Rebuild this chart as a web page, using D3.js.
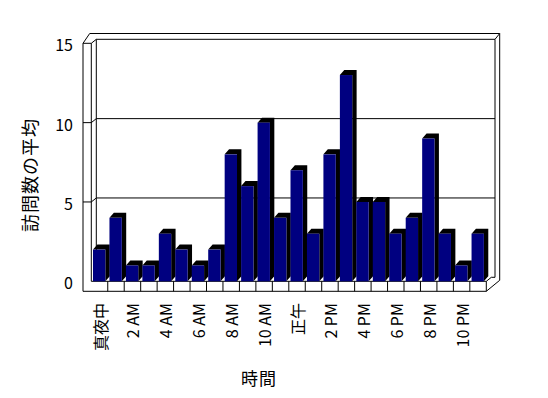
<!DOCTYPE html>
<html lang="ja">
  <head>
    <meta charset="UTF-8" />
    <title>訪問数の平均</title>
    <script src="https://d3js.org/d3.v7.min.js"></script>
    <style>
      body { margin: 0; background: #fff; }
      svg { display: block; }
      text { font-family: "Noto Sans CJK JP", "Noto Sans", sans-serif; fill: #000; }
      .wall { fill: none; stroke: #000; stroke-width: 1px; }
    </style>
  </head>
  <body>
    <svg width="548" height="398"></svg>
    <script>
      // hourly data
      const hours = d3.range(24);
      const visits = [2, 4, 1, 1, 3, 2, 1, 2, 8, 6, 10, 4, 7, 3, 8, 13, 5, 5, 3, 4, 9, 3, 1, 3];
      const hourLabels = ["真夜中", "2 AM", "4 AM", "6 AM", "8 AM", "10 AM", "正午", "2 PM", "4 PM", "6 PM", "8 PM", "10 PM"];
      const yTicks = [0, 5, 10, 15];

      const svg = d3.select("svg");

      // front plane of the 3d box
      const FRONT = { LEFT: 91.3, RIGHT: 486.3, BOTTOM: 281.3, TOP: 43.3 };
      const WALL = 8.3;          // thickness of left wall / floor
      const BACK = { DX: 5, DY: -4 };
      const BAR = { DX: 4.4, DY: -5 };

      const X = d3.scaleBand().domain(hours).range([FRONT.LEFT, FRONT.RIGHT]).padding(0);
      const Y = d3.scaleLinear().domain([0, 15]).range([FRONT.BOTTOM, FRONT.TOP]);

      const walls = svg.append("g").attr("class", "wall");
      const ln = (x1, y1, x2, y2) =>
        walls.append("line").attr("x1", x1).attr("y1", y1).attr("x2", x2).attr("y2", y2);

      const outerL = FRONT.LEFT - WALL;
      const backL = FRONT.LEFT + BACK.DX;
      const backR = 495;
      const outerR = 499.7;
      const topOuter = 33.5;

      // back wall gridlines
      yTicks.forEach((v) => {
        if (v > 0) ln(backL, Y(v) + BACK.DY, backR, Y(v) + BACK.DY);
        if (v > 0 && v < 15) {
          ln(outerL, Y(v), FRONT.LEFT, Y(v));
          ln(FRONT.LEFT, Y(v), backL, Y(v) + BACK.DY);
        }
      });

      // left wall
      ln(outerL, Y(15), outerL, FRONT.BOTTOM + 10);
      ln(FRONT.LEFT, Y(15), FRONT.LEFT, FRONT.BOTTOM);
      ln(backL, Y(15) + BACK.DY, backL, FRONT.BOTTOM + BACK.DY);
      ln(outerL, Y(15), FRONT.LEFT, Y(15));
      ln(FRONT.LEFT, Y(15), backL, Y(15) + BACK.DY);
      ln(outerL, Y(15), outerL + 6.7, topOuter);
      // back wall top and right edge
      ln(outerL + 6.7, topOuter, outerR, topOuter);
      ln(backR, Y(15) + BACK.DY, outerR, topOuter);
      ln(backR, Y(15) + BACK.DY, backR, FRONT.BOTTOM + BACK.DY);
      ln(outerR, topOuter, outerR, FRONT.BOTTOM - 1);

      // floor
      ln(FRONT.LEFT, FRONT.BOTTOM, FRONT.RIGHT, FRONT.BOTTOM);
      ln(outerL, FRONT.BOTTOM + 10, FRONT.RIGHT, FRONT.BOTTOM + 10);
      ln(FRONT.RIGHT, FRONT.BOTTOM, FRONT.RIGHT, FRONT.BOTTOM + 10);
      ln(FRONT.RIGHT, FRONT.BOTTOM + 10, outerR, FRONT.BOTTOM - 1);
      ln(FRONT.RIGHT, FRONT.BOTTOM, FRONT.RIGHT + BACK.DX, FRONT.BOTTOM + BACK.DY);
      ln(FRONT.RIGHT + BACK.DX, FRONT.BOTTOM + BACK.DY, backR, FRONT.BOTTOM + BACK.DY);
      hours.slice(1).forEach((h) => ln(X(h), FRONT.BOTTOM, X(h), FRONT.BOTTOM + 10));

      // bars
      const bw = X.bandwidth() * 0.75;
      const bars = svg.append("g").selectAll("g").data(hours).join("g");
      const x0 = (d) => X(d) + 1.7;
      const yt = (d) => Y(visits[d]);

      bars.append("path")
        .attr("fill", "#000")
        .attr("d", (d) => {
          const x = x0(d), y = yt(d);
          return `M${x},${y}L${x + BAR.DX},${y + BAR.DY}L${x + bw + BAR.DX},${y + BAR.DY}` +
            `L${x + bw + BAR.DX},${FRONT.BOTTOM + BAR.DY}L${x + bw},${FRONT.BOTTOM}L${x + bw},${y}Z`;
        });

      bars.append("rect")
        .attr("fill", "#000080")
        .attr("x", x0)
        .attr("y", yt)
        .attr("width", bw)
        .attr("height", (d) => FRONT.BOTTOM - yt(d));

      // y tick labels
      svg.append("g").selectAll("text").data(yTicks).join("text")
        .attr("x", 73)
        .attr("y", (d) => Y(d) + 1)
        .attr("text-anchor", "end")
        .attr("dominant-baseline", "central")
        .style("font-size", "16px")
        .text((d) => d);

      // x tick labels (every second hour)
      svg.append("g").selectAll("text").data(hourLabels).join("text")
        .attr("transform", (d, i) => `translate(${X(i * 2) + X.bandwidth() / 2}, 303) rotate(-90)`)
        .attr("text-anchor", "end")
        .attr("dominant-baseline", "central")
        .style("font-size", "16px")
        .text((d) => d);

      // axis titles
      svg.append("text")
        .attr("transform", "translate(29, 175) rotate(-90)")
        .attr("text-anchor", "middle")
        .attr("dominant-baseline", "central")
        .style("font-size", "18px")
        .style("letter-spacing", "1px")
        .text("訪問数の平均");

      svg.append("text")
        .attr("x", 259)
        .attr("y", 377)
        .attr("text-anchor", "middle")
        .attr("dominant-baseline", "central")
        .style("font-size", "17px")
        .style("letter-spacing", "1px")
        .text("時間");
    </script>
  </body>
</html>
